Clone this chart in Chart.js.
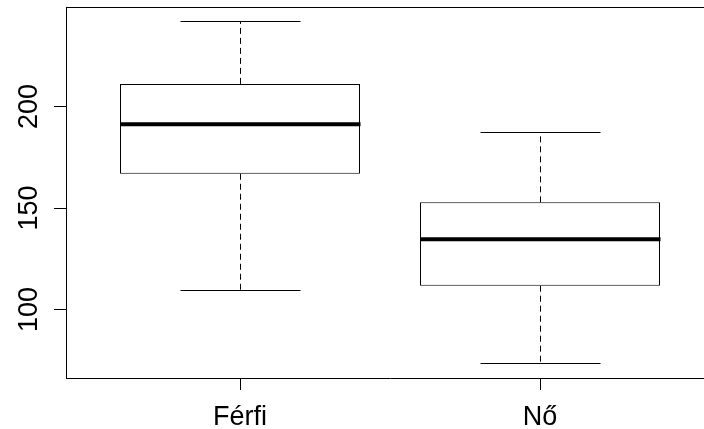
<!DOCTYPE html>
<html>
<head>
<meta charset="utf-8">
<script src="https://cdn.jsdelivr.net/npm/chart.js@4/dist/chart.umd.min.js"></script>
<style>
  html, body { margin: 0; padding: 0; overflow: hidden; background: #fff; }
  canvas { display: block; }
</style>
</head>
<body>
<canvas id="chart" width="724" height="429"></canvas>
<script>
// boxplot stats
const groups = ['Férfi', 'Nő'];
const whiskerLow = [109.7, 73.5];
const lowerQuartile = [166.9, 111.7];
const medians = [191.3, 134.6];
const upperQuartile = [211.2, 152.8];
const whiskerHigh = [242.3, 187.5];
const yTicks = [100, 150, 200];

const FONT = '27px "Liberation Sans", Arial, sans-serif';

const boxplotExtras = {
  id: 'boxplotExtras',
  afterDatasetsDraw(chart) {
    const {ctx, chartArea: {left, right, top}, scales: {x, y}} = chart;
    const meta = chart.getDatasetMeta(0);
    ctx.save();
    ctx.strokeStyle = '#000';

    // top frame line (the right side falls outside the window)
    ctx.lineWidth = 1;
    ctx.beginPath();
    ctx.moveTo(left, Math.round(top) + 0.5);
    ctx.lineTo(right, Math.round(top) + 0.5);
    ctx.stroke();

    groups.forEach((g, i) => {
      const cx = Math.round(x.getPixelForValue(i + 1)) + 0.5;
      const boxW = meta.data[i].width;
      const capW = boxW / 4;
      const yHi = Math.round(y.getPixelForValue(whiskerHigh[i])) + 0.5;
      const yLo = Math.round(y.getPixelForValue(whiskerLow[i])) + 0.5;
      const yQ3 = y.getPixelForValue(upperQuartile[i]);
      const yQ1 = y.getPixelForValue(lowerQuartile[i]);

      // dashed whiskers
      ctx.lineWidth = 1;
      ctx.setLineDash([6, 4]);
      ctx.beginPath();
      ctx.moveTo(cx, yQ3);
      ctx.lineTo(cx, yHi);
      ctx.moveTo(cx, yQ1);
      ctx.lineTo(cx, yLo);
      ctx.stroke();

      // staples
      ctx.setLineDash([]);
      ctx.beginPath();
      ctx.moveTo(cx - capW, yHi);
      ctx.lineTo(cx + capW, yHi);
      ctx.moveTo(cx - capW, yLo);
      ctx.lineTo(cx + capW, yLo);
      ctx.stroke();

      // median
      const yMed = y.getPixelForValue(medians[i]);
      ctx.lineWidth = 4;
      ctx.beginPath();
      ctx.moveTo(cx - boxW / 2, yMed);
      ctx.lineTo(cx + boxW / 2, yMed);
      ctx.stroke();
    });

    // category labels
    ctx.fillStyle = '#000';
    ctx.font = FONT;
    ctx.textAlign = 'center';
    ctx.textBaseline = 'alphabetic';
    groups.forEach((g, i) => {
      ctx.fillText(g, x.getPixelForValue(i + 1), 425);
    });

    // rotated y labels
    yTicks.forEach(v => {
      ctx.save();
      ctx.translate(37, y.getPixelForValue(v));
      ctx.rotate(-Math.PI / 2);
      ctx.fillText(String(v), 0, 0);
      ctx.restore();
    });
    ctx.restore();
  }
};

new Chart(document.getElementById('chart'), {
  type: 'bar',
  data: {
    datasets: [{
      data: groups.map((g, i) => ({x: i + 1, y: [lowerQuartile[i], upperQuartile[i]]})),
      backgroundColor: '#fff',
      borderColor: '#000',
      borderWidth: 1,
      borderSkipped: false,
      categoryPercentage: 1,
      barPercentage: 0.8
    }]
  },
  options: {
    responsive: false,
    animation: false,
    events: [],
    layout: {
      padding: {top: 7, right: 10, left: 0, bottom: 0}
    },
    scales: {
      x: {
        type: 'linear',
        offset: false,
        min: 0.42,
        max: 2.58,
        afterBuildTicks(scale) {
          scale.ticks = groups.map((g, i) => ({value: i + 1}));
        },
        afterFit(scale) {
          scale.height = 51;
        },
        ticks: {display: false},
        grid: {
          offset: false,
          drawOnChartArea: false,
          drawTicks: true,
          tickLength: 12,
          color: '#000',
          lineWidth: 1
        },
        border: {display: true, color: '#000', width: 1}
      },
      y: {
        type: 'linear',
        min: 66.2,
        max: 249.1,
        afterBuildTicks(scale) {
          scale.ticks = yTicks.map(v => ({value: v}));
        },
        afterFit(scale) {
          scale.width = 66;
        },
        ticks: {display: false},
        grid: {
          drawOnChartArea: false,
          drawTicks: true,
          tickLength: 12,
          color: '#000',
          lineWidth: 1
        },
        border: {display: true, color: '#000', width: 1}
      }
    },
    plugins: {
      legend: {display: false},
      tooltip: {enabled: false}
    }
  },
  plugins: [boxplotExtras]
});
</script>
</body>
</html>
